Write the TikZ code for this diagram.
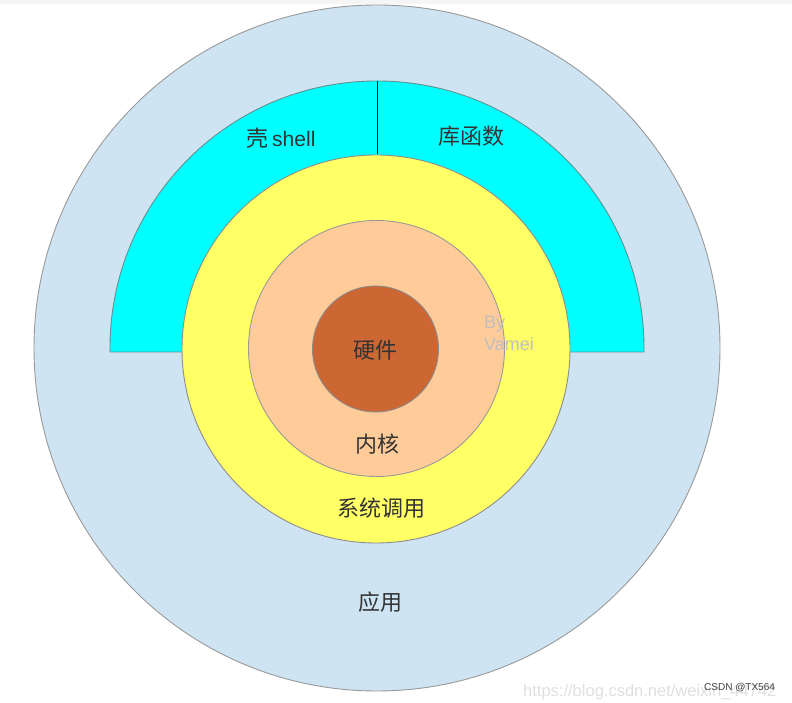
\documentclass[tikz,border=0pt]{standalone}
\usepackage{fontspec}
\setmainfont{Liberation Sans}
\newfontfamily\cjk{Noto Sans CJK SC}
\definecolor{appblue}{HTML}{CFE4F2}
\definecolor{shellcyan}{HTML}{00FFFF}
\definecolor{sysyellow}{HTML}{FFFF66}
\definecolor{kernpeach}{HTML}{FFCC99}
\definecolor{hwbrown}{HTML}{CC6633}
\definecolor{txt}{HTML}{333333}
\definecolor{wm}{HTML}{D8D8D8}
\begin{document}
\begin{tikzpicture}[x=1pt,y=1pt,
  ring/.style={draw=#1, line width=0.9pt},
  lbl/.style={text=txt, font=\cjk\fontsize{22}{24}\selectfont, inner sep=0pt},
  ]
\useasboundingbox (0,0) rectangle (792,703);
\fill[white] (0,0) rectangle (792,703);
\fill[black!4] (0,699) rectangle (792,703);
% outer: application
\filldraw[fill=appblue, ring=black!40] (377,355) circle[radius=343];
% shell / library half ring
\filldraw[fill=shellcyan, ring=black!45!teal!60] (110,351) -- (110,355) arc[start angle=180, end angle=0, radius=267] -- (644,351) -- cycle;
\coordinate (dtop) at (377,622);
\coordinate (dbot) at (377,549);
\draw[black, line width=0.9pt] (dtop) -- (dbot);
% system calls
\filldraw[fill=sysyellow, ring=black!45] (376,354) circle[radius=194];
% kernel
\filldraw[fill=kernpeach, ring=black!40] (376.5,354.5) circle[radius=128];
% hardware
\filldraw[fill=hwbrown, ring=black!45] (375.5,354) circle[radius=63];
% labels
\node[lbl] (shell) at (281,565) {壳\,{\fontspec{Liberation Sans}\fontsize{21}{24}\selectfont shell}};
\node[lbl] (lib) at (471,567) {库函数};
\node[lbl] (hw) at (375,353) {硬件};
\node[lbl] (kern) at (377,259) {内核};
\node[lbl] (sys) at (381,195) {系统调用};
\node[lbl] (app) at (380,101) {应用};
\node[text=black!25, font=\fontsize{18}{22}\selectfont, anchor=west, align=left, inner sep=0pt] (by) at (484,370) {By\\Vamei};
% watermark
\begin{scope}
\clip (0,0) rectangle (792,703);
\node[text=black!12, font=\fontsize{16.5}{18}\selectfont, anchor=base west, inner sep=0pt] (url) at (523,6) {https://blog.csdn.net/weixin\_44742};
\end{scope}
\node[text=black!75, font=\fontsize{10}{12}\selectfont, anchor=west, inner sep=0pt] (csdn) at (704,15) {CSDN @TX564};
\end{tikzpicture}
\end{document}
